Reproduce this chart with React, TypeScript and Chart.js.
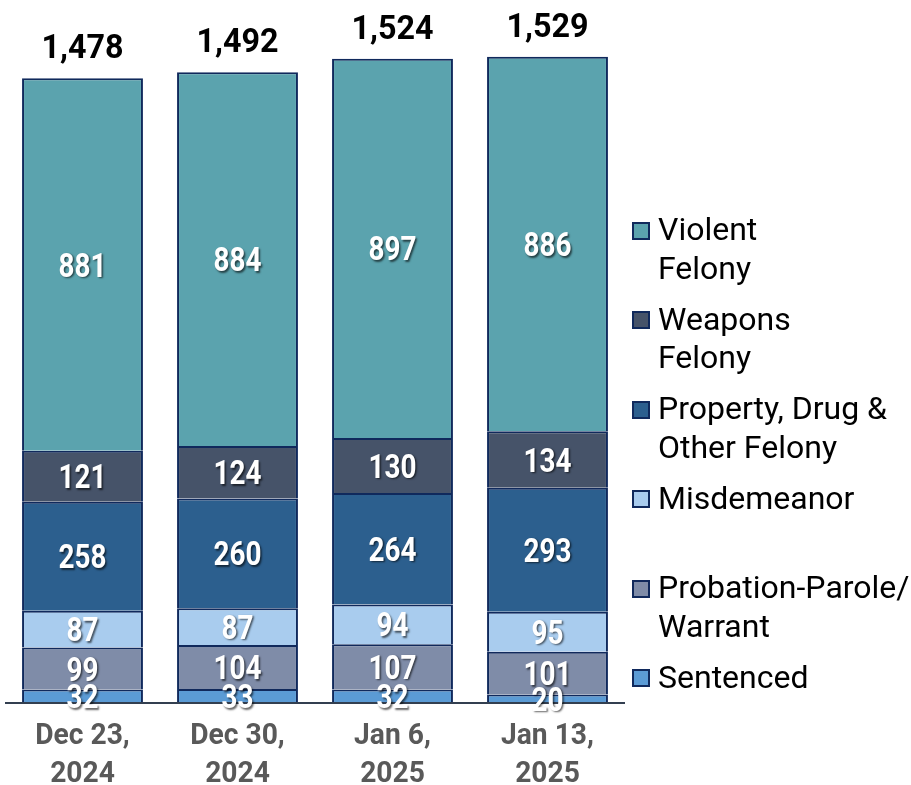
import React, { useEffect, useRef } from "react";
import { Chart, registerables } from "chart.js";

Chart.register(...registerables);

const categoryLines: string[][] = [
  ["Dec 23,", "2024"],
  ["Dec 30,", "2024"],
  ["Jan 6,", "2025"],
  ["Jan 13,", "2025"],
];
const categories = categoryLines.map((l) => l.join(" "));

const sentenced = [32, 33, 32, 20];
const probationParole = [99, 104, 107, 101];
const misdemeanor = [87, 87, 94, 95];
const propertyDrugOther = [258, 260, 264, 293];
const weaponsFelony = [121, 124, 130, 134];
const violentFelony = [881, 884, 897, 886];
const totals = [1478, 1492, 1524, 1529];

const seriesNames = [
  "Sentenced",
  "Probation-Parole/Warrant",
  "Misdemeanor",
  "Property, Drug & Other Felony",
  "Weapons Felony",
  "Violent Felony",
];
const seriesValues = [sentenced, probationParole, misdemeanor, propertyDrugOther, weaponsFelony, violentFelony];
const seriesColors = ["#5B9BD5", "#7F8CA8", "#A9CCEE", "#2C5F8E", "#465369", "#5BA3AE"];
const legendLines: string[][] = [
  ["Violent", "Felony"],
  ["Weapons", "Felony"],
  ["Property, Drug &", "Other Felony"],
  ["Misdemeanor"],
  ["Probation-Parole/", "Warrant"],
  ["Sentenced"],
];
const legendColors = ["#5BA3AE", "#465369", "#2C5F8E", "#A9CCEE", "#7F8CA8", "#5B9BD5"];

const BORDER = "#10295C";
const FONT = "Roboto, 'Noto Sans', sans-serif";

function drawCondensed(ctx: CanvasRenderingContext2D, text: string, x: number, y: number, sx: number) {
  ctx.save();
  ctx.translate(x, y);
  ctx.scale(sx, 1);
  ctx.fillText(text, 0, 0);
  ctx.restore();
}

const labelPlugin = {
  id: "labelPlugin",
  afterDatasetsDraw(chart: any) {
    const ctx: CanvasRenderingContext2D = chart.ctx;
    const y0 = chart.scales.y.getPixelForValue(0);
    // axis line
    ctx.save();
    ctx.strokeStyle = "#333F50";
    ctx.lineWidth = 2;
    ctx.beginPath();
    ctx.moveTo(5, y0);
    ctx.lineTo(625, y0);
    ctx.stroke();
    ctx.restore();

    // segment labels
    const segSize = 34;
    ctx.save();
    ctx.font = `bold ${segSize}px ${FONT}`;
    ctx.textAlign = "center";
    ctx.textBaseline = "alphabetic";
    ctx.fillStyle = "#FFFFFF";
    ctx.shadowColor = "rgba(0,0,0,0.6)";
    ctx.shadowOffsetX = 1.5;
    ctx.shadowOffsetY = 1.5;
    ctx.shadowBlur = 2;
    chart.data.datasets.forEach((ds: any, i: number) => {
      const meta = chart.getDatasetMeta(i);
      meta.data.forEach((el: any, j: number) => {
        const cy = (el.y + el.base) / 2;
        drawCondensed(ctx, String(ds.data[j]), el.x, cy + 0.711 * segSize / 2, 0.82);
      });
    });
    ctx.restore();

    // totals
    const totSize = 34;
    ctx.save();
    ctx.font = `bold ${totSize}px ${FONT}`;
    ctx.textAlign = "center";
    ctx.fillStyle = "#000000";
    const topMeta = chart.getDatasetMeta(chart.data.datasets.length - 1);
    topMeta.data.forEach((el: any, j: number) => {
      const cy = el.y - 32;
      drawCondensed(ctx, totals[j].toLocaleString("en-US"), el.x, cy + 0.711 * totSize / 2, 0.95);
    });
    ctx.restore();

    // category labels
    const catSize = 30;
    ctx.save();
    ctx.font = `bold ${catSize}px ${FONT}`;
    ctx.textAlign = "center";
    ctx.fillStyle = "#595959";
    categoryLines.forEach((lines, j) => {
      const x = chart.scales.x.getPixelForValue(j);
      lines.forEach((t, k) => {
        const cy = 733 + k * 38.5;
        drawCondensed(ctx, t, x, cy + 0.711 * catSize / 2, 0.94);
      });
    });
    ctx.restore();
  },
};

export default function App() {
  const ref = useRef<HTMLCanvasElement | null>(null);
  useEffect(() => {
    if (!ref.current) return;
    const chart = new Chart(ref.current, {
      type: "bar",
      data: {
        labels: categories,
        datasets: seriesNames.map((name, i) => ({
          label: name,
          data: seriesValues[i],
          backgroundColor: seriesColors[i],
          borderColor: BORDER,
          borderWidth: 2,
          barPercentage: 0.78,
          categoryPercentage: 1,
        })),
      },
      options: {
        animation: false,
        responsive: false,
        layout: { padding: { left: 5, right: 286, top: 5.5, bottom: 82 } },
        scales: {
          x: { stacked: true, display: false },
          y: { stacked: true, display: false, min: 0, max: 1650 },
        },
        plugins: { legend: { display: false }, tooltip: { enabled: false } },
      },
      plugins: [labelPlugin],
    } as any);
    return () => chart.destroy();
  }, []);

  return (
    <div style={{ position: "fixed", left: 0, top: 0, width: 911, height: 785, background: "#fff" }}>
      <canvas ref={ref} width={911} height={785} style={{ position: "absolute", left: 0, top: 0 }} />
      {legendLines.map((lines, i) => {
        const c = 230.5 + i * 89.5;
        return (
          <React.Fragment key={i}>
            <div
              style={{
                position: "absolute",
                left: 632,
                top: c - 9,
                width: 18,
                height: 18,
                boxSizing: "border-box",
                border: `2px solid ${BORDER}`,
                background: legendColors[i],
              }}
            />
            <div
              style={{
                position: "absolute",
                left: 658,
                top: c - 1.5 - 18.8,
                fontFamily: FONT,
                fontSize: 32,
                lineHeight: "38.5px",
                color: "#000",
                whiteSpace: "nowrap",
              }}
            >
              {lines.map((t, k) => (
                <div key={k}>{t}</div>
              ))}
            </div>
          </React.Fragment>
        );
      })}
    </div>
  );
}
